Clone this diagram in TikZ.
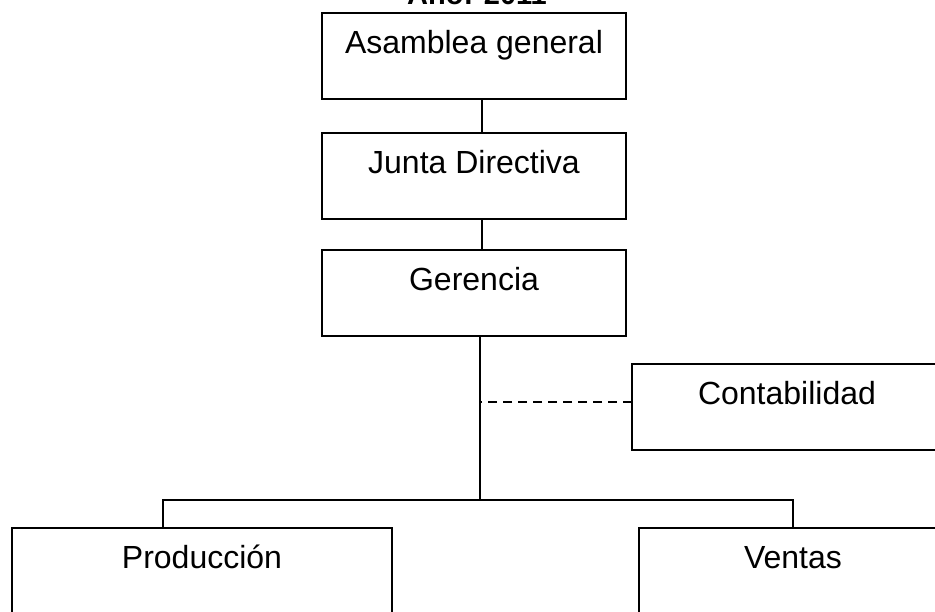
\documentclass[tikz,border=0pt]{standalone}
\usepackage{fontspec}
\setmainfont{Liberation Sans}
\usetikzlibrary{positioning}

\begin{document}
\begin{tikzpicture}[
  x = 1pt, y = -1pt,
  node distance = 32pt,
  org/.style = {rectangle, draw, line width=2pt, inner sep=0pt, outer sep=0pt,
                minimum width=304pt, text height=40.5pt, text depth=45.5pt,
                font=\fontsize{32}{38}\selectfont},
  link/.style = {line width=1.5pt}
]
\useasboundingbox (0,0) rectangle (935,611);

\node[font=\bfseries\fontsize{29}{34}\selectfont, anchor=base] (year) at (477,4.5) {Año: 2011};

\node[org, anchor=north] (asam) at (474,13) {Asamblea general};
\node[org, below=34pt of asam] (junta) {Junta Directiva};
\node[org, below=31pt of junta] (gere) {Gerencia};

\node[org, minimum width=310pt, below right=28pt and 6pt of gere] (cont) {Contabilidad};

\node[org, minimum width=380pt, anchor=north west] (prod) at (12,527.5) {Producción};
\node[org, minimum width=308pt, anchor=north west] (vent) at (639,527.5) {Ventas};

\coordinate (branch) at (480,500);

\draw[link] ([xshift=8pt]asam.south) -- ([xshift=8pt]junta.north);
\draw[link] ([xshift=8pt]junta.south) -- ([xshift=8pt]gere.north);
\draw[link] ([xshift=6pt]gere.south) -- (branch);
\draw[link, dash pattern=on 9pt off 6pt] ([yshift=5pt]cont.west) -- ([yshift=5pt]cont.west -| branch);
\draw[link] ([xshift=-39pt]prod.north) |- (branch) -| (vent.north);
\end{tikzpicture}
\end{document}
